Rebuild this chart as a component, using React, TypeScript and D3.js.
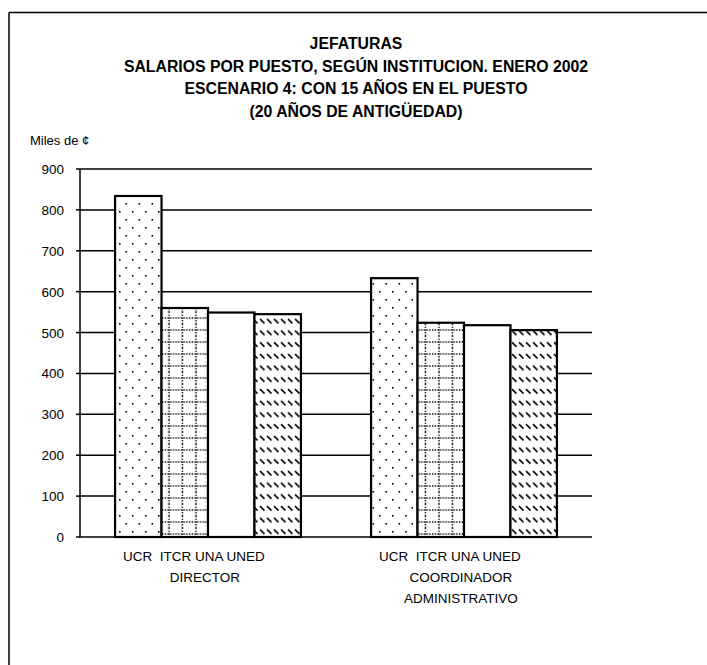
import React from "react";
import * as d3 from "d3";

const titleLines = [
  "JEFATURAS",
  "SALARIOS POR PUESTO, SEGÚN INSTITUCION. ENERO 2002",
  "ESCENARIO 4: CON 15 AÑOS EN EL PUESTO",
  "(20 AÑOS DE ANTIGÜEDAD)",
];
const unitLabel = "Miles de ¢";
const institutions = ["UCR", "ITCR", "UNA", "UNED"];
const groups = ["DIRECTOR", "COORDINADOR ADMINISTRATIVO"];
const groupLabelLines = [["DIRECTOR"], ["COORDINADOR", "ADMINISTRATIVO"]];
const directorValues = [834, 560, 549, 545];
const coordinadorValues = [633, 524, 518, 506];
const yTicks = [0, 100, 200, 300, 400, 500, 600, 700, 800, 900];

const W = 707;
const H = 665;
const plotLeft = 80;
const plotRight = 592;
const plotTop = 169;
const plotBottom = 537;
const font = "Arial, 'Liberation Sans', Helvetica, sans-serif";
const patterns = ["pDots", "pGrid", "", "pDiag"];
const titleCx = 356;

export default function App() {
  const y = d3.scaleLinear().domain([0, 900]).range([plotBottom, plotTop]);
  const x0 = d3.scaleBand<string>().domain(groups).range([plotLeft, plotRight]);
  const bw = x0.bandwidth();
  const x1 = d3
    .scaleBand<string>()
    .domain(institutions)
    .range([bw * 0.137, bw * 0.863]);
  const seriesByGroup = [directorValues, coordinadorValues];

  return (
    <svg
      width={W}
      height={H}
      style={{ position: "absolute", left: 0, top: 0, background: "#fff" }}
      fontFamily={font}
    >
      <defs>
        <pattern id="pDots" width={13} height={16} patternUnits="userSpaceOnUse">
          <rect width={13} height={16} fill="#fff" />
          <rect x={2} y={3} width={1.6} height={1.6} fill="#000" />
          <rect x={8.5} y={11} width={1.6} height={1.6} fill="#000" />
        </pattern>
        <pattern id="pGrid" width={13.5} height={12} patternUnits="userSpaceOnUse">
          <rect width={13.5} height={12} fill="#fff" />
          <line x1={0} y1={6} x2={13.5} y2={6} stroke="#000" strokeWidth={1.3} strokeDasharray="1.3 1.4" />
          <line x1={7} y1={0} x2={7} y2={12} stroke="#000" strokeWidth={1.3} strokeDasharray="1.3 1.4" />
        </pattern>
        <pattern id="pDiag" width={7} height={11.7} patternUnits="userSpaceOnUse">
          <rect width={7} height={11.7} fill="#fff" />
          <line x1={1} y1={3} x2={5.5} y2={7.5} stroke="#000" strokeWidth={1.6} />
        </pattern>
      </defs>

      {/* frame */}
      <line x1={9} y1={12.5} x2={W} y2={12.5} stroke="#000" strokeWidth={1.5} />
      <line x1={9} y1={12.5} x2={9} y2={H} stroke="#000" strokeWidth={1.5} />

      {/* title */}
      <g transform={`translate(${titleCx},0) scale(0.93,1)`}>
        {titleLines.map((t, i) => (
          <text
            key={i}
            x={0}
            y={49 + i * 22.7}
            textAnchor="middle"
            fontSize={17}
            fontWeight="bold"
          >
            {t}
          </text>
        ))}
      </g>
      <text x={30} y={145} fontSize={13}>
        {unitLabel}
      </text>

      {/* gridlines */}
      {yTicks
        .filter((t) => t > 0)
        .map((t) => (
          <line
            key={t}
            x1={plotLeft}
            x2={plotRight}
            y1={y(t)}
            y2={y(t)}
            stroke="#000"
            strokeWidth={1.5}
          />
        ))}

      {/* bars */}
      {groups.map((g, gi) =>
        institutions.map((inst, ii) => {
          const v = seriesByGroup[gi][ii];
          const bx = (x0(g) as number) + (x1(inst) as number);
          const p = patterns[ii];
          return (
            <rect
              key={g + inst}
              x={bx}
              y={y(v)}
              width={x1.bandwidth()}
              height={y(0) - y(v)}
              fill={p ? `url(#${p})` : "#fff"}
              stroke="#000"
              strokeWidth={2.2}
            />
          );
        })
      )}

      {/* axes */}
      <line x1={plotLeft} x2={plotLeft} y1={plotTop} y2={plotBottom} stroke="#000" strokeWidth={1.5} />
      <line x1={plotLeft - 1} x2={plotRight} y1={plotBottom} y2={plotBottom} stroke="#000" strokeWidth={1.5} />
      {yTicks.map((t) => (
        <g key={t}>
          <line x1={plotLeft - 4} x2={plotLeft} y1={y(t)} y2={y(t)} stroke="#000" strokeWidth={1.5} />
          <text x={64} y={y(t) + 5} textAnchor="end" fontSize={13.5}>
            {t}
          </text>
        </g>
      ))}

      {/* category labels */}
      {groups.map((g, gi) => {
        const cx = (x0(g) as number) + bw / 2;
        return (
          <g key={g}>
            <text x={cx - 14} y={561} textAnchor="middle" fontSize={13.5} style={{ whiteSpace: "pre" }}>
              {institutions.join(" ").replace("UCR ", "UCR  ")}
            </text>
            {groupLabelLines[gi].map((l, li) => (
              <text key={li} x={cx - 3} y={582 + li * 21} textAnchor="middle" fontSize={13.5}>
                {l}
              </text>
            ))}
          </g>
        );
      })}
    </svg>
  );
}
